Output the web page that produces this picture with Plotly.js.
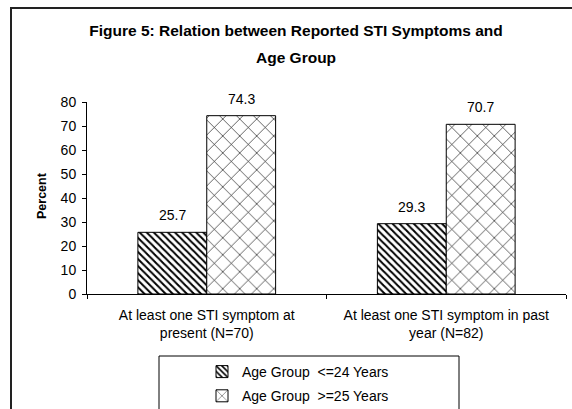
<!DOCTYPE html>
<html>
<head>
<meta charset="utf-8">
<script src="https://cdn.plot.ly/plotly-3.0.1.min.js"></script>
<style>
  html, body { margin: 0; padding: 0; background: #ffffff; }
  #chart { width: 572px; height: 409px; }
</style>
</head>
<body>
<div id="chart"></div>
<script>
// ---- data ----
const categories = [
  "At least one STI symptom at<br>present (N=70)",
  "At least one STI symptom in past<br>year (N=82)"
];
const seriesNames = ["Age Group  <=24 Years", "Age Group  >=25 Years"];
const young = [25.7, 29.3];
const older = [74.3, 70.7];
const yTicks = [0, 10, 20, 30, 40, 50, 60, 70, 80];
const titleLine1 = "Figure 5: Relation between Reported STI Symptoms and";
const titleLine2 = "Age Group";
const yTitle = "Percent";

// ---- chart ----
const FONT = "'Liberation Sans', Arial, sans-serif";
const FS = 14;
const bargap = 0.425;
const barW = (1 - bargap) / 2;

const traces = [
  {
    type: "bar", name: seriesNames[0], x: categories, y: young, legendgroup: "a",
    marker: {
      color: "#ffffff",
      line: { color: "#000000", width: 1 },
      pattern: { shape: "\\", fgcolor: "#000000", bgcolor: "#ffffff", size: 5, solidity: 0.4 }
    },
    hoverinfo: "skip"
  },
  {
    type: "bar", name: seriesNames[1], x: categories, y: older, legendgroup: "b",
    marker: {
      color: "#ffffff",
      line: { color: "#000000", width: 1 },
      pattern: { shape: "x", fgcolor: "#000000", bgcolor: "#ffffff", size: 12, solidity: 0.1 }
    },
    hoverinfo: "skip"
  }
];

const annotations = [];
[young, older].forEach((vals, s) => {
  vals.forEach((v, i) => {
    annotations.push({
      xref: "x", yref: "y",
      x: i + (s === 0 ? -barW / 2 : barW / 2),
      y: v, text: String(v.toFixed(1)),
      showarrow: false, yanchor: "bottom", yshift: 7,
      font: { family: FONT, size: FS, color: "#000000" }
    });
  });
});
annotations.push({
  xref: "paper", yref: "paper", x: (296 - 87) / 479, y: (294 - 57) / 192,
  text: "<b>" + titleLine2 + "</b>", showarrow: false, xanchor: "center", yanchor: "middle",
  font: { family: FONT, size: 15.5, color: "#000000" }
});
// y-axis title
annotations.push({
  xref: "paper", yref: "paper", x: (42 - 87) / 479, y: (294 - 196) / 192,
  text: "<b>" + yTitle + "</b>", textangle: -90, showarrow: false,
  xanchor: "center", yanchor: "middle",
  font: { family: FONT, size: 12.5, color: "#000000" }
});

const shapes = [
  // outer chart border (left + top visible)
  { type: "rect", xref: "paper", yref: "paper",
    x0: (11 - 87) / 479, x1: 1.1, y0: -0.8, y1: (294 - 8) / 192,
    line: { color: "#222222", width: 2 }, fillcolor: "rgba(0,0,0,0)", layer: "below" },
  // legend box
  { type: "rect", xref: "paper", yref: "paper",
    x0: (159 - 87) / 479, x1: (459 - 87) / 479, y0: (294 - 420) / 192, y1: (294 - 356) / 192,
    line: { color: "#000000", width: 1 }, fillcolor: "rgba(0,0,0,0)", layer: "below" }
];

const layout = {
  width: 572, height: 409,
  margin: { l: 87, r: 6, t: 102, b: 115, autoexpand: false },
  paper_bgcolor: "#ffffff", plot_bgcolor: "#ffffff",
  font: { family: FONT, size: FS, color: "#000000" },
  title: {
    text: "<b>" + titleLine1 + "</b>",
    font: { family: FONT, size: 15.5, color: "#000000" },
    xref: "container", yref: "container",
    x: 296 / 572, xanchor: "center", y: 1 - 31 / 409, yanchor: "middle"
  },
  barmode: "group", bargap: bargap, bargroupgap: 0,
  showlegend: true,
  legend: {
    orientation: "v", xref: "container", yref: "container",
    x: 202 / 572, xanchor: "left", y: 1 - 356 / 409, yanchor: "top",
    bgcolor: "rgba(0,0,0,0)", borderwidth: 0, tracegroupgap: 3,
    font: { family: FONT, size: FS, color: "#000000" }, traceorder: "grouped"
  },
  xaxis: {
    type: "category", showgrid: false, zeroline: false,
    showline: true, linecolor: "#000000", linewidth: 1,
    ticks: "outside", tickson: "boundaries", ticklen: 4, tickcolor: "#000000",
    tickangle: 0, automargin: false, ticklabelstandoff: 8,
    tickfont: { family: FONT, size: FS, color: "#000000" }, fixedrange: true
  },
  yaxis: {
    range: [0, 80], tickvals: yTicks, ticktext: yTicks.map(String),
    showgrid: false, zeroline: false,
    showline: true, linecolor: "#000000", linewidth: 1,
    ticks: "outside", ticklen: 4, tickcolor: "#000000", ticklabelstandoff: 3,
    tickfont: { family: FONT, size: FS, color: "#000000" },
    automargin: false, fixedrange: true
  },
  annotations: annotations,
  shapes: shapes
};

Plotly.newPlot("chart", traces, layout, { displayModeBar: false, staticPlot: true });
</script>
</body>
</html>
